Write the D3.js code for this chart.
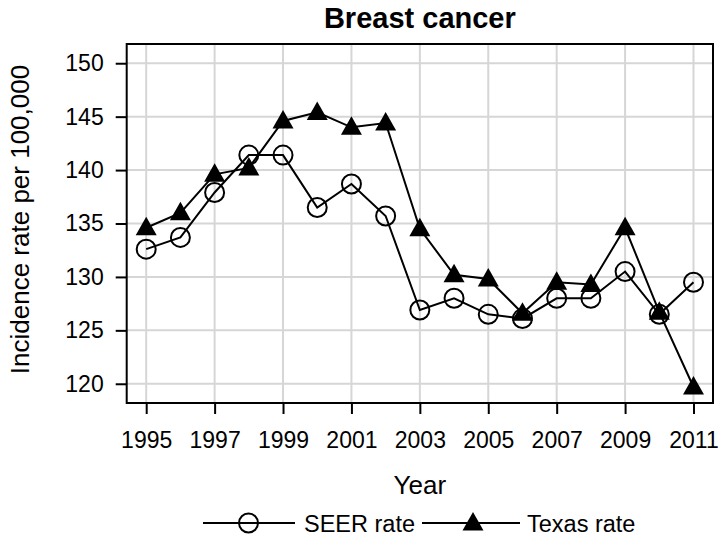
<!DOCTYPE html>
<html><head><meta charset="utf-8">
<script src="https://cdn.jsdelivr.net/npm/d3@7"></script>
<style>body{margin:0;background:#fff}svg{display:block}text{font-family:"Liberation Sans",Arial,sans-serif;fill:#000}</style>
</head><body><div id="chart"></div>
<script>
const years = [1995,1996,1997,1998,1999,2000,2001,2002,2003,2004,2005,2006,2007,2008,2009,2010,2011];
const seerRate = [132.6,133.7,137.9,141.4,141.4,136.5,138.7,135.7,126.9,128.0,126.5,126.1,128.0,128.0,130.5,126.5,129.5];
const texasRate = [134.6,136.0,139.6,140.2,144.6,145.4,144.0,144.4,134.5,130.2,129.8,126.6,129.5,129.3,134.6,126.7,119.7];
const xTicks = [1995,1997,1999,2001,2003,2005,2007,2009,2011];
const yTicks = [120,125,130,135,140,145,150];
const seriesNames = ["SEER rate","Texas rate"];
const title = "Breast cancer";
const xTitle = "Year";
const yTitle = "Incidence rate per 100,000";

const W = 724, H = 540;
const m = {left:126.7, right:11, top:44, bottom:137};
const svg = d3.select("#chart").append("svg").attr("width",W).attr("height",H);
const x = d3.scaleLinear().domain([1994.43,2011.57]).range([m.left, W-m.right]);
const y = d3.scaleLinear().domain([118.2,151.8]).range([H-m.bottom, m.top]);

// gridlines
const g = svg.append("g");
g.selectAll(".vg").data(xTicks).join("line")
  .attr("x1",d=>x(d)).attr("x2",d=>x(d)).attr("y1",m.top).attr("y2",H-m.bottom)
  .attr("stroke","#d6d6d6").attr("stroke-width",2);
g.selectAll(".hg").data(yTicks).join("line")
  .attr("y1",d=>y(d)).attr("y2",d=>y(d)).attr("x1",m.left).attr("x2",W-m.right)
  .attr("stroke","#d6d6d6").attr("stroke-width",2);

// axes
const xAxis = d3.axisBottom(x).tickValues(xTicks).tickFormat(d3.format("d")).tickSize(11).tickPadding(6);
const yAxis = d3.axisLeft(y).tickValues(yTicks).tickSize(11).tickPadding(12);
const gx = svg.append("g").attr("transform",`translate(0,${H-m.bottom})`).call(xAxis);
const gy = svg.append("g").attr("transform",`translate(${m.left},0)`).call(yAxis);
[gx,gy].forEach(a=>{
  a.select(".domain").remove();
  a.selectAll(".tick line").attr("stroke","#000").attr("stroke-width",2);
  a.selectAll(".tick text").attr("font-size",23).attr("font-family","Liberation Sans, Arial, sans-serif").attr("fill","#000");
});
gx.selectAll(".tick text").attr("y",45).attr("dy",0);

// frame
svg.append("rect").attr("x",m.left).attr("y",m.top).attr("width",W-m.right-m.left).attr("height",H-m.bottom-m.top)
  .attr("fill","none").attr("stroke","#000").attr("stroke-width",2);

const line = d3.line().x((d,i)=>x(years[i])).y(d=>y(d));
const triPath = "M0,-11L10.5,7.5L-10.5,7.5Z";

svg.append("path").datum(seerRate).attr("d",line).attr("fill","none").attr("stroke","#000").attr("stroke-width",2);
svg.append("path").datum(texasRate).attr("d",line).attr("fill","none").attr("stroke","#000").attr("stroke-width",2);
svg.selectAll(".seer").data(seerRate).join("circle")
  .attr("cx",(d,i)=>x(years[i])).attr("cy",d=>y(d)).attr("r",9.5)
  .attr("fill","none").attr("stroke","#000").attr("stroke-width",2);
svg.selectAll(".tex").data(texasRate).join("path")
  .attr("transform",(d,i)=>`translate(${x(years[i])},${y(d)})`).attr("d",triPath).attr("fill","#000");

// titles
svg.append("text").attr("x",(m.left+W-m.right)/2).attr("y",28).attr("text-anchor","middle")
  .attr("font-size",29).attr("font-weight","bold").text(title);
svg.append("text").attr("x",(m.left+W-m.right)/2).attr("y",494).attr("text-anchor","middle")
  .attr("font-size",26).text(xTitle);
svg.append("text").attr("transform",`translate(29,${(m.top+H-m.bottom)/2 - 4}) rotate(-90)`).attr("text-anchor","middle")
  .attr("font-size",26).text(yTitle);

// legend
const ly = 523;
const lg = svg.append("g");
lg.append("line").attr("x1",203).attr("x2",295).attr("y1",ly).attr("y2",ly).attr("stroke","#000").attr("stroke-width",2);
lg.append("circle").attr("cx",248.5).attr("cy",ly).attr("r",9.5).attr("fill","none").attr("stroke","#000").attr("stroke-width",2);
lg.append("text").attr("x",304).attr("y",ly+8.5).attr("font-size",23.5).text(seriesNames[0]);
lg.append("line").attr("x1",422).attr("x2",520).attr("y1",ly).attr("y2",ly).attr("stroke","#000").attr("stroke-width",2);
lg.append("path").attr("transform",`translate(473,${ly})`).attr("d",triPath).attr("fill","#000");
lg.append("text").attr("x",527).attr("y",ly+8.5).attr("font-size",23.5).text(seriesNames[1]);
</script></body></html>
